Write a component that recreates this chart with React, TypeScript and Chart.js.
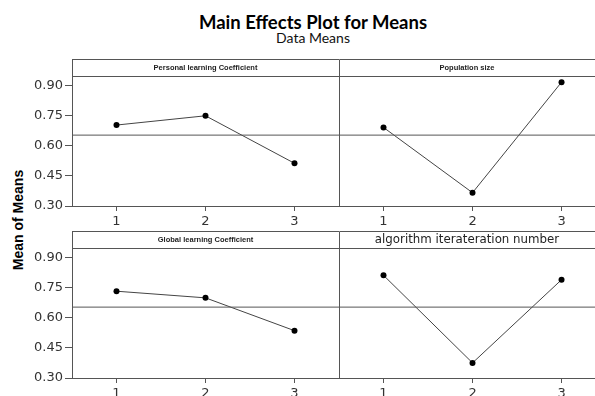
import React, { useEffect, useRef } from "react";
import { Chart, registerables } from "chart.js";

Chart.register(...registerables);

// ---- data ----
const LEVELS = [1, 2, 3];
const Y_TICKS = [0.3, 0.45, 0.6, 0.75, 0.9];
const PANEL_TITLES = [
  "Personal learning Coefficient",
  "Population size",
  "Global learning Coefficient",
  "algorithm iterateration number",
];
const PERSONAL_LEARNING = [0.702, 0.748, 0.512];
const POPULATION_SIZE = [0.69, 0.366, 0.915];
const GLOBAL_LEARNING = [0.731, 0.698, 0.535];
const ITERATION_NUMBER = [0.81, 0.375, 0.788];
const GRAND_MEAN = 0.652;
const Y_MIN = 0.3;
const Y_MAX = 1.03;
const STRIP_VALUE = 0.945;

const LINE_COLOR = "#555";
const TEXT_COLOR = "#333";

type PanelProps = {
  left: number;
  top: number;
  width: number;
  height: number;
  values: number[];
  title: string;
  showY: boolean;
  xMin: number;
  xMax: number;
  titleFont: string;
};

const framePlugin = {
  id: "panelFrame",
  afterDraw(chart: any, _args: any, opts: any) {
    const { ctx, chartArea: a, scales } = chart;
    const ys = Math.round(scales.y.getPixelForValue(STRIP_VALUE)) + 0.5;
    const L = Math.round(a.left) + 0.5;
    const T = Math.round(a.top) + 0.5;
    const B = Math.round(a.bottom) + 0.5;
    ctx.save();
    ctx.strokeStyle = LINE_COLOR;
    ctx.lineWidth = 1;
    ctx.beginPath();
    ctx.moveTo(L, B);
    ctx.lineTo(L, T);
    ctx.lineTo(a.right, T);
    ctx.moveTo(L, ys);
    ctx.lineTo(a.right, ys);
    ctx.stroke();
    ctx.fillStyle = "#222";
    ctx.font = opts.titleFont;
    ctx.textAlign = "center";
    ctx.textBaseline = "middle";
    ctx.fillText(opts.title, (a.left + a.right) / 2, (a.top + ys) / 2 + 0.5);
    ctx.restore();
  },
};

function Panel(p: PanelProps) {
  const ref = useRef<HTMLCanvasElement | null>(null);
  useEffect(() => {
    if (!ref.current) return;
    const chart = new Chart(ref.current, {
      type: "line",
      data: {
        datasets: [
          {
            data: [
              { x: p.xMin, y: GRAND_MEAN },
              { x: p.xMax, y: GRAND_MEAN },
            ],
            borderColor: LINE_COLOR,
            borderWidth: 1,
            pointRadius: 0,
          },
          {
            data: LEVELS.map((l, i) => ({ x: l, y: p.values[i] })),
            borderColor: "#444",
            borderWidth: 1,
            pointRadius: 3,
            pointBackgroundColor: "#000",
            pointBorderColor: "#000",
            pointBorderWidth: 0,
          },
        ],
      },
      options: {
        responsive: false,
        animation: false,
        layout: { autoPadding: false, padding: { top: 5, left: 0, right: 0, bottom: 0 } },
        plugins: {
          legend: { display: false },
          tooltip: { enabled: false },
          panelFrame: {
            title: p.title,
            titleFont: p.titleFont,
          },
        } as any,
        scales: {
          x: {
            type: "linear",
            min: p.xMin,
            max: p.xMax,
            afterBuildTicks: (s: any) => {
              s.ticks = LEVELS.map((v) => ({ value: v }));
            },
            afterFit: (s: any) => {
              s.height = 28;
              s.paddingLeft = 0;
              s.paddingRight = 0;
            },
            ticks: {
              autoSkip: false,
              maxRotation: 0,
              padding: 3,
              color: TEXT_COLOR,
              font: { family: "DejaVu Sans", size: 13 },
              callback: (v: any) => String(v),
            },
            grid: { drawOnChartArea: false, tickLength: 5, color: LINE_COLOR },
            border: { display: true, color: LINE_COLOR },
          },
          y: {
            type: "linear",
            display: p.showY,
            min: Y_MIN,
            max: Y_MAX,
            afterBuildTicks: (s: any) => {
              s.ticks = Y_TICKS.map((v) => ({ value: v }));
            },
            afterFit: (s: any) => {
              s.width = p.showY ? 72 : 0;
              s.paddingTop = 0;
              s.paddingBottom = 0;
            },
            ticks: {
              autoSkip: false,
              padding: 2,
              color: TEXT_COLOR,
              font: { family: "DejaVu Sans", size: 13 },
              callback: (v: any) => Number(v).toFixed(2),
            },
            grid: { drawOnChartArea: false, tickLength: 7, color: LINE_COLOR },
            border: { display: true, color: LINE_COLOR },
          },
        },
      },
      plugins: [framePlugin],
    } as any);
    return () => chart.destroy();
  }, []);
  return (
    <canvas
      ref={ref}
      width={p.width}
      height={p.height}
      style={{ position: "absolute", left: p.left, top: p.top, width: p.width, height: p.height }}
    />
  );
}

const SMALL_STRIP = "bold 7.5px 'Liberation Sans Narrow', 'Liberation Sans', sans-serif";
const LARGE_STRIP = "11.8px 'DejaVu Sans', sans-serif";

export default function App() {
  return (
    <div
      style={{
        position: "fixed",
        left: 0,
        top: 0,
        width: 595,
        height: 396,
        overflow: "hidden",
        background: "#fff",
      }}
    >
      <div
        style={{
          position: "absolute",
          left: 313,
          top: 11,
          transform: "translateX(-50%)",
          whiteSpace: "nowrap",
          font: "bold 18.5px Lato, sans-serif",
          lineHeight: "22px",
          color: "#000",
        }}
      >
        Main Effects Plot for Means
      </div>
      <div
        style={{
          position: "absolute",
          left: 313,
          top: 30,
          transform: "translateX(-50%)",
          whiteSpace: "nowrap",
          font: "14px Lato, sans-serif",
          lineHeight: "16px",
          color: "#111",
        }}
      >
        Data Means
      </div>
      <div
        style={{
          position: "absolute",
          left: 18,
          top: 220,
          transform: "translate(-50%, -50%) rotate(-90deg)",
          whiteSpace: "nowrap",
          font: "bold 14px 'Liberation Sans', sans-serif",
          color: "#000",
        }}
      >
        Mean of Means
      </div>
      <Panel left={0} top={54} width={339} height={180} values={PERSONAL_LEARNING} title={PANEL_TITLES[0]} showY={true} xMin={0.5} xMax={3.5} titleFont={SMALL_STRIP} />
      <Panel left={339} top={54} width={256} height={180} values={POPULATION_SIZE} title={PANEL_TITLES[1]} showY={false} xMin={0.5} xMax={3.376} titleFont={SMALL_STRIP} />
      <Panel left={0} top={226} width={339} height={180} values={GLOBAL_LEARNING} title={PANEL_TITLES[2]} showY={true} xMin={0.5} xMax={3.5} titleFont={SMALL_STRIP} />
      <Panel left={339} top={226} width={256} height={180} values={ITERATION_NUMBER} title={PANEL_TITLES[3]} showY={false} xMin={0.5} xMax={3.376} titleFont={LARGE_STRIP} />
    </div>
  );
}
